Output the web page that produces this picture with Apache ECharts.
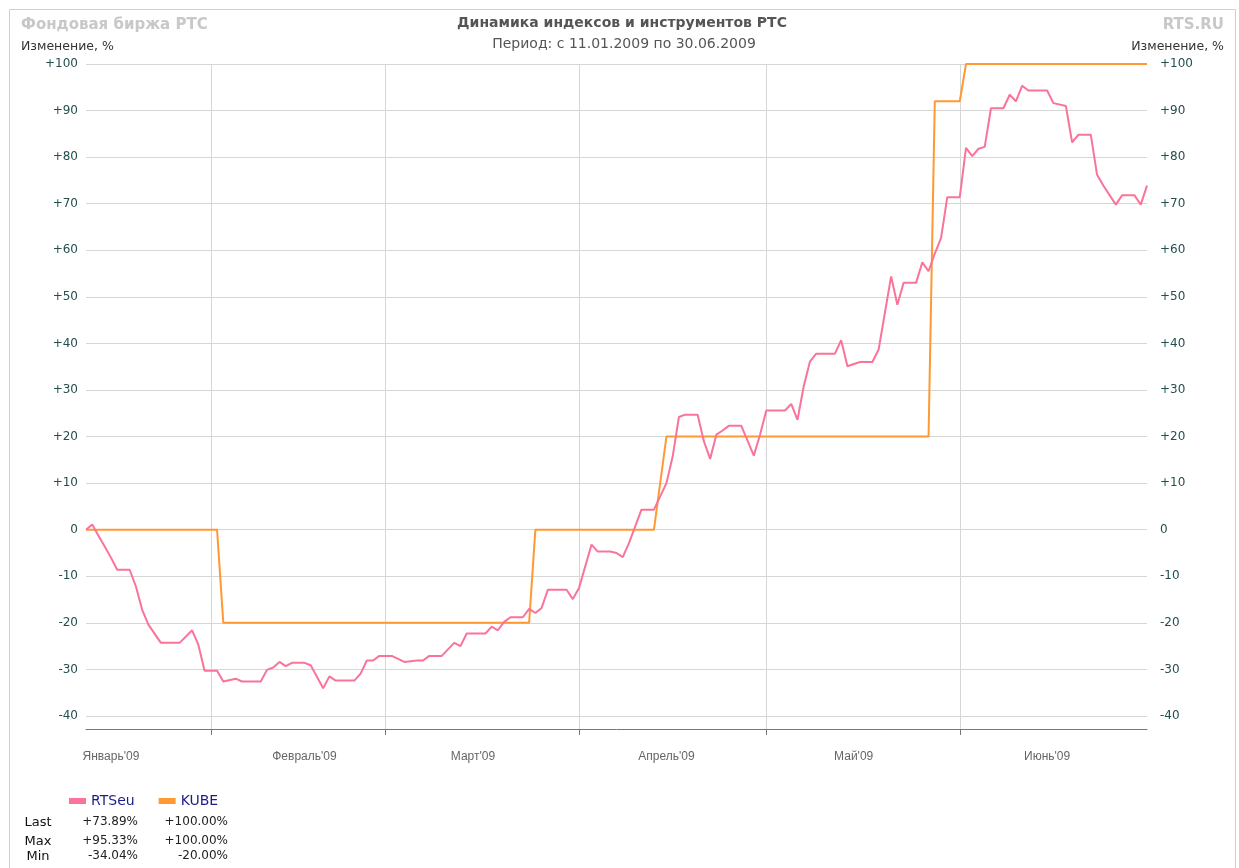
<!DOCTYPE html>
<html>
<head>
<meta charset="utf-8">
<title>Динамика индексов и инструментов РТС</title>
<script src="https://cdn.jsdelivr.net/npm/echarts@6/dist/echarts.min.js"></script>
<style>
    html, body { margin: 0; padding: 0; background: #fff; }
    #chart-rts { width: 1239px; height: 868px; }
</style>
</head>
<body>
<div id="chart-rts"></div>
<script>
// RTSeu, change vs period start, %
const rtsDates = [
    '2009-01-12', '2009-01-13', '2009-01-14', '2009-01-15', '2009-01-16', '2009-01-17', '2009-01-19', '2009-01-20',
    '2009-01-21', '2009-01-22', '2009-01-24', '2009-01-27', '2009-01-29', '2009-01-30', '2009-01-31', '2009-02-02',
    '2009-02-03', '2009-02-05', '2009-02-06', '2009-02-09', '2009-02-10', '2009-02-11', '2009-02-12', '2009-02-13',
    '2009-02-14', '2009-02-16', '2009-02-17', '2009-02-19', '2009-02-20', '2009-02-21', '2009-02-24', '2009-02-25',
    '2009-02-26', '2009-02-27', '2009-02-28', '2009-03-02', '2009-03-04', '2009-03-06', '2009-03-07', '2009-03-08',
    '2009-03-10', '2009-03-12', '2009-03-13', '2009-03-14', '2009-03-17', '2009-03-18', '2009-03-19', '2009-03-20',
    '2009-03-21', '2009-03-23', '2009-03-24', '2009-03-25', '2009-03-26', '2009-03-27', '2009-03-30', '2009-03-31',
    '2009-04-01', '2009-04-03', '2009-04-04', '2009-04-06', '2009-04-07', '2009-04-08', '2009-04-09', '2009-04-10',
    '2009-04-11', '2009-04-13', '2009-04-15', '2009-04-16', '2009-04-17', '2009-04-18', '2009-04-20', '2009-04-21',
    '2009-04-22', '2009-04-23', '2009-04-24', '2009-04-25', '2009-04-27', '2009-04-29', '2009-04-30', '2009-05-01',
    '2009-05-04', '2009-05-05', '2009-05-06', '2009-05-07', '2009-05-08', '2009-05-09', '2009-05-12', '2009-05-13',
    '2009-05-14', '2009-05-16', '2009-05-18', '2009-05-19', '2009-05-21', '2009-05-22', '2009-05-23', '2009-05-25',
    '2009-05-26', '2009-05-27', '2009-05-28', '2009-05-29', '2009-05-30', '2009-06-01', '2009-06-02', '2009-06-03',
    '2009-06-04', '2009-06-05', '2009-06-06', '2009-06-08', '2009-06-09', '2009-06-10', '2009-06-11', '2009-06-12',
    '2009-06-15', '2009-06-16', '2009-06-18', '2009-06-19', '2009-06-20', '2009-06-22', '2009-06-23', '2009-06-24',
    '2009-06-26', '2009-06-27', '2009-06-29', '2009-06-30', '2009-07-01'
];
const rtsValues = [
    0, 1.1, -1.3, -3.6, -6, -8.6, -8.6, -12.2,
    -17.2, -20.4, -24.3, -24.3, -21.6, -24.7, -30.3, -30.3,
    -32.6, -32, -32.6, -32.6, -30.1, -29.6, -28.4, -29.3,
    -28.6, -28.6, -29.1, -34.04, -31.5, -32.4, -32.4, -30.9,
    -28.1, -28.1, -27.1, -27.1, -28.4, -28.1, -28.1, -27.1,
    -27.1, -24.3, -25, -22.3, -22.3, -20.8, -21.6, -19.8,
    -18.8, -18.8, -17, -17.9, -16.8, -12.9, -12.9, -14.9,
    -12.5, -3.2, -4.7, -4.7, -5, -5.9, -2.9, 0.7,
    4.3, 4.3, 10, 15.7, 24.2, 24.7, 24.7, 19,
    15.2, 20.4, 21.3, 22.3, 22.3, 15.9, 20.4, 25.6,
    25.6, 27, 23.6, 30.8, 36.1, 37.8, 37.8, 40.7,
    35.1, 36, 36, 38.7, 54.4, 48.3, 53, 53,
    57.4, 55.5, 59.3, 62.6, 71.4, 71.4, 82, 80.2,
    81.8, 82.2, 90.5, 90.5, 93.4, 92, 95.33, 94.3,
    94.3, 91.6, 91, 83.2, 84.8, 84.8, 76.2, 73.9,
    69.8, 71.8, 71.8, 69.8, 73.89
];

// KUBE
const kubeDates = [
    '2009-01-12', '2009-02-02', '2009-02-03', '2009-03-24', '2009-03-25', '2009-04-13',
    '2009-04-15', '2009-05-27', '2009-05-28', '2009-06-01', '2009-06-02', '2009-07-01'
];
const kubeValues = [0, 0, -20, -20, 0, 0, 20, 20, 92, 92, 100, 100];

const monthStarts = ['2009-02-01', '2009-03-01', '2009-04-01', '2009-05-01', '2009-06-01'];
const monthLabelDates = ['2009-01-16', '2009-02-16', '2009-03-15', '2009-04-15', '2009-05-15', '2009-06-15'];
const monthNames = ["Январь'09", "Февраль'09", "Март'09", "Апрель'09", "Май'09", "Июнь'09"];
const yTicks = [-40, -30, -20, -10, 0, 10, 20, 30, 40, 50, 60, 70, 80, 90, 100];

const statNames = ['Last', 'Max', 'Min'];
const rtsStats = ['+73.89%', '+95.33%', '-34.04%'];
const kubeStats = ['+100.00%', '+100.00%', '-20.00%'];

const pink = '#fa7399';
const orange = '#ff9933';
const gridColor = '#d6d6d6';

// dates as UTC day timestamps, so the x axis is a plain value axis
function ts(d) {
    return Date.parse(d + 'T00:00:00Z');
}

function zip(dates, values) {
    return dates.map((d, i) => [ts(d), values[i]]);
}

function fmtPct(v) {
    return v > 0 ? '+' + v : String(v);
}

function yAxisCfg(pos) {
    return {
        type: 'value',
        position: pos,
        min: -42.8,
        max: 100,
        axisLine: { show: false },
        axisTick: { show: false, customValues: yTicks },
        axisLabel: {
            customValues: yTicks,
            formatter: fmtPct,
            color: '#244f4f',
            fontSize: 12,
            fontFamily: 'DejaVu Sans',
            margin: pos === 'left' ? 8 : 13
        },
        splitLine: {
            show: pos === 'left',
            customValues: yTicks,
            lineStyle: { color: gridColor, width: 1 }
        }
    };
}

function txt(x, y, text, o) {
    return {
        type: 'text', x: x, y: y, silent: true,
        style: Object.assign({
            text: text,
            fill: '#222',
            fontFamily: 'DejaVu Sans',
            fontSize: 12,
            align: 'left',
            textAlign: 'left',
            verticalAlign: 'middle',
            textVerticalAlign: 'middle'
        }, o || {})
    };
}

function buildGraphic() {
    let g = [{
        type: 'rect', silent: true,
        shape: { x: 9.5, y: 9.5, width: 1226, height: 900 },
        style: { fill: 'none', stroke: '#cfcfcf', lineWidth: 1 }
    }];
    g.push(txt(21, 25, 'Фондовая биржа РТС', { fill: '#c8c8c8', fontSize: 15, fontWeight: 'bold' }));
    g.push(txt(1224, 25, 'RTS.RU', { fill: '#c8c8c8', fontSize: 15, fontWeight: 'bold', align: 'right', textAlign: 'right' }));
    g.push(txt(622, 23, 'Динамика индексов и инструментов РТС', { fill: '#555', fontSize: 14, fontWeight: 'bold', align: 'center', textAlign: 'center' }));
    g.push(txt(624, 44, 'Период: с 11.01.2009 по 30.06.2009', { fill: '#555', fontSize: 14, align: 'center', textAlign: 'center' }));
    g.push(txt(21, 47, 'Изменение, %', { fill: '#333', fontSize: 12.5 }));
    g.push(txt(1224, 47, 'Изменение, %', { fill: '#333', fontSize: 12.5, align: 'right', textAlign: 'right' }));

    let rowY = [823, 842, 857];
    statNames.forEach((name, i) => {
        g.push(txt(38, rowY[i], name, { fill: '#111', fontSize: 13, align: 'center', textAlign: 'center' }));
        g.push(txt(138, rowY[i] - 1, rtsStats[i], { align: 'right', textAlign: 'right' }));
        g.push(txt(228, rowY[i] - 1, kubeStats[i], { align: 'right', textAlign: 'right' }));
    });
    return g;
}

function rtsChart() {
    let myChart = echarts.init(document.getElementById('chart-rts'), null, { renderer: 'canvas' });

    let option = {
        animation: false,
        backgroundColor: '#fff',
        grid: { left: 86, right: 92, top: 64, bottom: 139, containLabel: false },
        legend: {
            data: ['RTSeu', 'KUBE'],
            left: 64,
            top: 789,
            icon: 'rect',
            itemWidth: 17,
            itemHeight: 6,
            itemGap: 24,
            textStyle: { color: '#1c1c88', fontSize: 14, fontFamily: 'DejaVu Sans' }
        },
        xAxis: {
            type: 'value',
            min: ts('2009-01-12'),
            max: ts('2009-07-01'),
            axisLine: { onZero: false, lineStyle: { color: '#777', width: 1 } },
            axisTick: { show: true, length: 6, customValues: monthStarts.map(ts), lineStyle: { color: '#777' } },
            axisLabel: {
                customValues: monthLabelDates.map(ts),
                formatter: function (v) {
                    return monthNames[new Date(v).getUTCMonth()];
                },
                color: '#666',
                fontSize: 12,
                fontFamily: 'Liberation Sans',
                margin: 22,
                hideOverlap: false
            },
            splitLine: { show: true, customValues: monthStarts.map(ts), lineStyle: { color: gridColor, width: 1 } }
        },
        yAxis: [yAxisCfg('left'), yAxisCfg('right')],
        series: [
            {
                name: 'RTSeu',
                type: 'line',
                z: 3,
                showSymbol: false,
                color: pink,
                lineStyle: { color: pink, width: 2 },
                data: zip(rtsDates, rtsValues)
            },
            {
                name: 'KUBE',
                type: 'line',
                z: 2,
                showSymbol: false,
                color: orange,
                lineStyle: { color: orange, width: 2 },
                data: zip(kubeDates, kubeValues)
            }
        ],
        graphic: buildGraphic()
    };

    myChart.setOption(option);
}

rtsChart();
</script>
</body>
</html>
